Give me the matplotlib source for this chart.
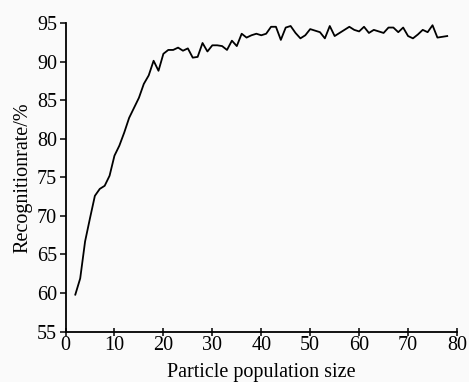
import matplotlib
matplotlib.use("Agg")
import matplotlib.pyplot as plt

pop_size = list(range(2, 79))
recognition_rate = [
    59.8, 61.9, 66.7, 69.7, 72.6, 73.5, 73.9, 75.2, 77.8, 79.1,
    80.8, 82.7, 84.0, 85.3, 87.1, 88.2, 90.1, 88.8, 91.0, 91.5,
    91.5, 91.8, 91.4, 91.7, 90.5, 90.6, 92.4, 91.3, 92.1, 92.1,
    92.0, 91.5, 92.7, 92.0, 93.6, 93.1, 93.4, 93.6, 93.4, 93.6,
    94.5, 94.5, 92.8, 94.4, 94.6, 93.7, 93.0, 93.4, 94.2, 94.0,
    93.8, 93.0, 94.6, 93.3, 93.7, 94.1, 94.5, 94.1, 93.9, 94.5,
    93.7, 94.1, 93.9, 93.7, 94.4, 94.4, 93.8, 94.4, 93.3, 93.0,
    93.5, 94.1, 93.8, 94.7, 93.1, 93.2, 93.3,
]
x_ticks = [0, 10, 20, 30, 40, 50, 60, 70, 80]
y_ticks = [55, 60, 65, 70, 75, 80, 85, 90, 95]

plt.rcParams['font.family'] = ['Liberation Serif', 'DejaVu Serif']

fig = plt.figure(figsize=(4.69, 3.82), dpi=100, facecolor='#fafafa')
ax = fig.add_axes([0.1397, 0.1317, 0.8347, 0.8083])
ax.set_facecolor('#fafafa')
ax.plot(pop_size, recognition_rate, color='black', linewidth=1.3)

ax.set_xlim(0, 80)
ax.set_ylim(55, 95)
ax.set_xticks(x_ticks)
ax.set_yticks(y_ticks)
for s in ['top', 'right']:
    ax.spines[s].set_visible(False)
for s in ['left', 'bottom']:
    ax.spines[s].set_linewidth(1.3)
ax.tick_params(axis='x', direction='inout', length=6, width=1.1, labelsize=14.5, pad=0)
ax.tick_params(axis='y', direction='out', length=4, width=1.1, labelsize=14.5, pad=2)
ax.set_xlabel('Particle population size', fontsize=14.5, labelpad=6)
ax.set_ylabel('Recognitionrate/%', fontsize=14.5, labelpad=3)

fig.savefig('out.png', dpi=100, facecolor=fig.get_facecolor())
